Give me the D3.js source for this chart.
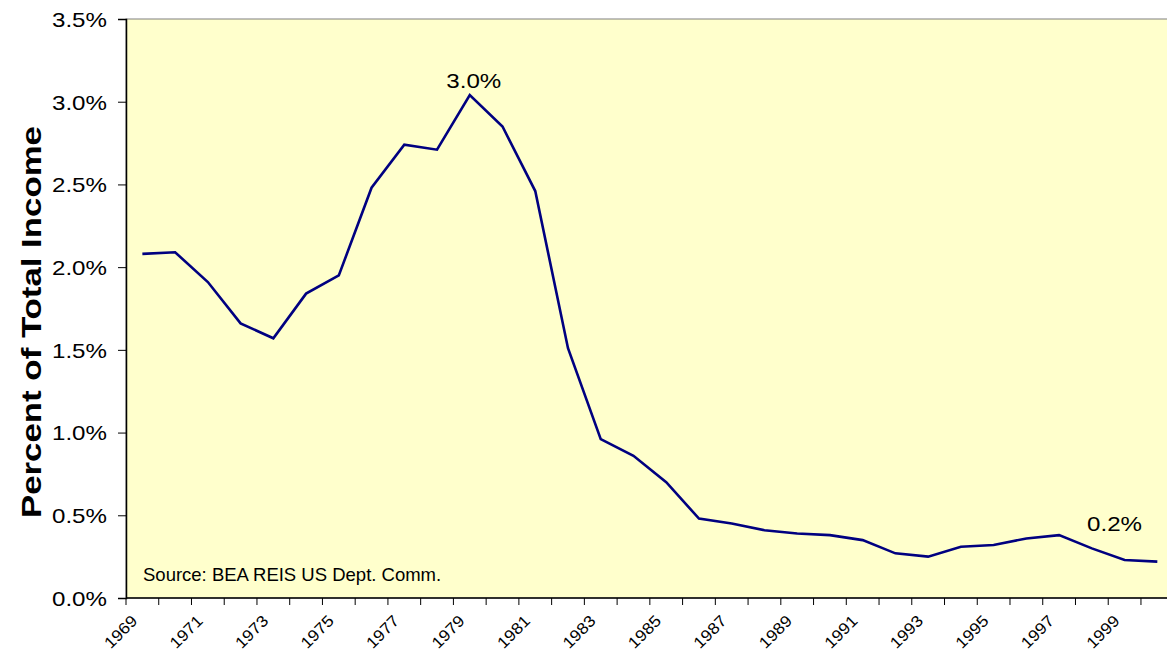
<!DOCTYPE html>
<html>
<head>
<meta charset="utf-8">
<script src="https://cdn.jsdelivr.net/npm/d3@7"></script>
<style>
  body { margin: 0; background: #fff; }
  text { font-family: Arial, "Liberation Sans", sans-serif; fill: #000; }
</style>
</head>
<body>
<div id="chart"></div>
<script>
/////////////////////////////////////
///      DATA
/////////////////////////////////////
var years = d3.range(1969, 2001);
var shares = [2.08, 2.09, 1.91, 1.66, 1.57, 1.84, 1.95, 2.48, 2.74, 2.71,
              3.04, 2.85, 2.46, 1.51, 0.96, 0.86, 0.70, 0.48, 0.45, 0.41,
              0.39, 0.38, 0.35, 0.27, 0.25, 0.31, 0.32, 0.36, 0.38, 0.30,
              0.23, 0.22];
var yTicks = [0, 0.5, 1.0, 1.5, 2.0, 2.5, 3.0, 3.5];
var xLabels = years.filter(function(y){ return (y - 1969) % 2 === 0; });
var callouts = [{year: 1979, text: "3.0%"}, {year: 1999, text: "0.2%"}];

/////////////////////////////////////
///      CHART
/////////////////////////////////////
var W = 1167, H = 660;
var plotLeft = 126, plotTop = 19, plotBottom = 598, plotRight = 1173.7;

var svg = d3.select("#chart").append("svg")
  .attr("width", W)
  .attr("height", H);

var x = d3.scaleBand().domain(years).range([plotLeft, plotRight]);
var y = d3.scaleLinear().domain([0, 3.5]).range([plotBottom, plotTop]);
var mid = function(yr){ return x(yr) + x.bandwidth() / 2; };

// plot background
svg.append("rect")
  .attr("x", plotLeft)
  .attr("y", plotTop)
  .attr("width", plotRight - plotLeft)
  .attr("height", plotBottom - plotTop)
  .attr("fill", "#FFFFCC")
  .attr("stroke", "#808080")
  .attr("stroke-width", 1);

// y axis
var yAxis = svg.append("g")
  .attr("transform", "translate(" + plotLeft + ",0)")
  .call(d3.axisLeft(y).tickValues(yTicks).tickSize(8).tickPadding(11)
    .tickFormat(function(d){ return d.toFixed(1) + "%"; }));
yAxis.select(".domain").attr("stroke", "#000").attr("stroke-width", 1.5);
yAxis.selectAll(".tick line").attr("stroke", "#000");
yAxis.selectAll("text")
  .style("font-size", "21px")
  .attr("dy", "0.35em")
  .attr("textLength", 55)
  .attr("lengthAdjust", "spacingAndGlyphs");

// x axis - ticks at band edges
var xAxis = svg.append("g").attr("transform", "translate(0," + plotBottom + ")");
xAxis.append("line")
  .attr("x1", plotLeft).attr("x2", plotRight)
  .attr("stroke", "#000").attr("stroke-width", 1.5);
xAxis.selectAll("line.tk")
  .data(years.concat([2001]))
  .enter().append("line")
  .attr("class", "tk")
  .attr("x1", function(d){ return d === 2001 ? plotRight : x(d); })
  .attr("x2", function(d){ return d === 2001 ? plotRight : x(d); })
  .attr("y1", 0).attr("y2", 7)
  .attr("stroke", "#000");
xAxis.selectAll("text")
  .data(xLabels)
  .enter().append("text")
  .attr("transform", function(d){
    return "translate(" + (mid(d) - 8) + ",20) rotate(-45)";
  })
  .attr("text-anchor", "end")
  .attr("dy", "0.35em")
  .style("font-size", "16px")
  .attr("textLength", 39)
  .attr("lengthAdjust", "spacingAndGlyphs")
  .text(function(d){ return d; });

// line
var line = d3.line()
  .x(function(d, i){ return mid(years[i]); })
  .y(function(d){ return y(d); });

svg.append("path")
  .datum(shares)
  .attr("d", line)
  .attr("fill", "none")
  .attr("stroke", "#000080")
  .attr("stroke-width", 2.6)
  .attr("stroke-linejoin", "miter");

// callouts
svg.selectAll("text.callout")
  .data(callouts)
  .enter().append("text")
  .attr("class", "callout")
  .attr("x", function(d){ return d.year === 1979 ? mid(d.year) + 4 : mid(d.year) - 10; })
  .attr("y", function(d){
    return d.year === 1979 ? y(shares[years.indexOf(d.year)]) - 7 : 531;
  })
  .attr("text-anchor", "middle")
  .style("font-size", "21px")
  .attr("textLength", 55)
  .attr("lengthAdjust", "spacingAndGlyphs")
  .text(function(d){ return d.text; });

// source note
svg.append("text")
  .attr("x", 143)
  .attr("y", 581)
  .style("font-size", "18.5px")
  .text("Source: BEA REIS US Dept. Comm.");

// y title
svg.append("text")
  .attr("transform", "translate(31,322) rotate(-90)")
  .attr("text-anchor", "middle")
  .attr("dy", "0.35em")
  .style("font-size", "28px")
  .style("font-weight", "bold")
  .attr("textLength", 392)
  .attr("lengthAdjust", "spacingAndGlyphs")
  .text("Percent of Total Income");
</script>
</body>
</html>
